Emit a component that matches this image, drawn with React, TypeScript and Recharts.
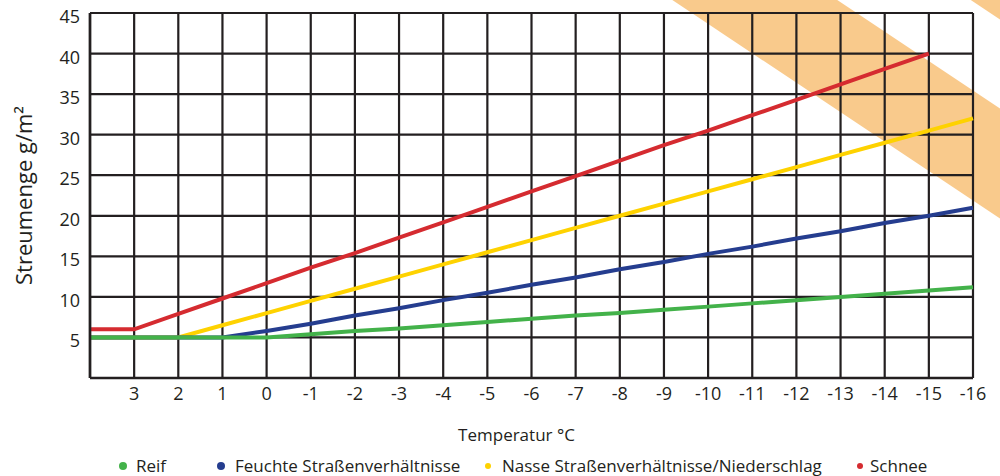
import { LineChart, Line, XAxis, YAxis, CartesianGrid, Legend, ReferenceLine } from "recharts"

const temps = [4, 3, 2, 1, 0, -1, -2, -3, -4, -5, -6, -7, -8, -9, -10, -11, -12, -13, -14, -15, -16]
const reif = [5, 5, 5, 5, 5, 5.4, 5.8, 6.1, 6.5, 6.9, 7.3, 7.7, 8.0, 8.4, 8.8, 9.2, 9.6, 10.0, 10.4, 10.8, 11.2]
const feuchte = [5, 5, 5, 5, 5.8, 6.7, 7.7, 8.6, 9.6, 10.5, 11.5, 12.4, 13.4, 14.3, 15.3, 16.2, 17.2, 18.1, 19.1, 20.0, 21.0]
const nasse = [5, 5, 5, 6.5, 8.0, 9.5, 11.0, 12.5, 14.0, 15.5, 17.0, 18.5, 20.0, 21.5, 23.0, 24.5, 26.0, 27.5, 29.0, 30.5, 32.0]
const schnee = [6, 6, 7.9, 9.8, 11.7, 13.6, 15.4, 17.3, 19.2, 21.1, 23.0, 24.9, 26.8, 28.7, 30.5, 32.4, 34.3, 36.2, 38.1, 40.0, null]

const xTicks = [4, 3, 2, 1, 0, -1, -2, -3, -4, -5, -6, -7, -8, -9, -10, -11, -12, -13, -14, -15, -16]
const yTicks = [0, 5, 10, 15, 20, 25, 30, 35, 40, 45]

// diagonal warning stripes (centre lines, data coordinates)
const stripeA = [{ x: -7.56, y: 59.3 }, { x: -18.88, y: 18.2 }]
const stripeB = [{ x: -15.48, y: 55.1 }, { x: -20.01, y: 38.6 }]

const seriesNames = ["Reif", "Feuchte Straßenverhältnisse", "Nasse Straßenverhältnisse/Niederschlag", "Schnee"]

const data = temps.map((t, i) => ({
  t,
  reif: reif[i],
  feuchte: feuchte[i],
  nasse: nasse[i],
  schnee: schnee[i],
}))

const FONT = "'Open Sans', sans-serif"
const INK = "#231f20"
const GREEN = "#43b24a"
const BLUE = "#253d8f"
const YELLOW = "#fed200"
const RED = "#d52b30"
const ORANGE = "#f9ca8c"

const legendLayout = [
  { color: GREEN, dot: 8, dotX: 122.5, textX: 136 },
  { color: BLUE, dot: 8, dotX: 221, textX: 235 },
  { color: YELLOW, dot: 6, dotX: 488, textX: 502 },
  { color: RED, dot: 6, dotX: 860, textX: 870 },
]

function LegendContent() {
  return (
    <div style={{ position: "relative", width: 1000, height: 24, fontFamily: FONT, fontSize: 17, color: INK }}>
      {seriesNames.map((name, i) => {
        const l = legendLayout[i]
        return (
          <div key={name}>
            <span
              style={{
                position: "absolute",
                left: l.dotX - l.dot / 2,
                top: 13.5 - l.dot / 2,
                width: l.dot,
                height: l.dot,
                borderRadius: "50%",
                background: l.color,
              }}
            />
            <span style={{ position: "absolute", left: l.textX, top: 2, lineHeight: "24px", whiteSpace: "nowrap" }}>
              {name}
            </span>
          </div>
        )
      })}
    </div>
  )
}

// y labels sit a little below their grid lines in the original
function YTick(props: any) {
  const { x, y, payload } = props
  if (payload.value === 0) return null
  return (
    <text x={x} y={y} dy={10} textAnchor="end" fontSize={18} fill={INK} fontFamily={FONT}>
      {payload.value}
    </text>
  )
}

export default function App() {
  return (
    <div style={{ position: "absolute", left: 0, top: 0, width: 1000, height: 476, background: "#fff" }}>
      <LineChart width={1000} height={476} data={data} margin={{ top: 13, right: 27, bottom: 0, left: 0 }}>
        <ReferenceLine segment={stripeA} ifOverflow="visible" stroke={ORANGE} strokeWidth={91.5} zIndex={-200} />
        <ReferenceLine segment={stripeB} ifOverflow="visible" stroke={ORANGE} strokeWidth={91.5} zIndex={-200} />
        <CartesianGrid stroke={INK} strokeWidth={2.2} strokeOpacity={1} />
        <XAxis
          dataKey="t"
          type="number"
          domain={[-16, 4]}
          reversed
          ticks={xTicks}
          interval={0}
          height={74}
          tickLine={false}
          tickSize={0}
          tickMargin={9}
          axisLine={{ stroke: INK, strokeWidth: 2.6 }}
          tick={{ fontSize: 18, fill: INK, fontFamily: FONT }}
          tickFormatter={(v) => (v === 4 ? "" : String(v))}
          label={{ value: "Temperatur °C", position: "insideBottom", offset: 11, dx: -15, fontSize: 17, fill: INK, fontFamily: FONT }}
        />
        <YAxis
          type="number"
          domain={[0, 45]}
          ticks={yTicks}
          interval={0}
          width={90}
          tickLine={false}
          tickSize={0}
          tickMargin={10}
          axisLine={{ stroke: INK, strokeWidth: 2.6 }}
          tick={<YTick />}
          label={{
            value: "Streumenge g/m²",
            angle: -90,
            position: "insideLeft",
            offset: 24,
            fontSize: 22,
            fill: INK,
            fontFamily: FONT,
            style: { textAnchor: "middle" },
          }}
        />
        <Line dataKey="schnee" name={seriesNames[3]} stroke={RED} strokeWidth={4} dot={false} isAnimationActive={false} />
        <Line dataKey="nasse" name={seriesNames[2]} stroke={YELLOW} strokeWidth={4} dot={false} isAnimationActive={false} />
        <Line dataKey="feuchte" name={seriesNames[1]} stroke={BLUE} strokeWidth={4} dot={false} isAnimationActive={false} />
        <Line dataKey="reif" name={seriesNames[0]} stroke={GREEN} strokeWidth={4} dot={false} isAnimationActive={false} />
        <Legend verticalAlign="bottom" content={() => <LegendContent />} wrapperStyle={{ left: 0, width: 1000, bottom: 0 }} />
      </LineChart>
    </div>
  )
}
